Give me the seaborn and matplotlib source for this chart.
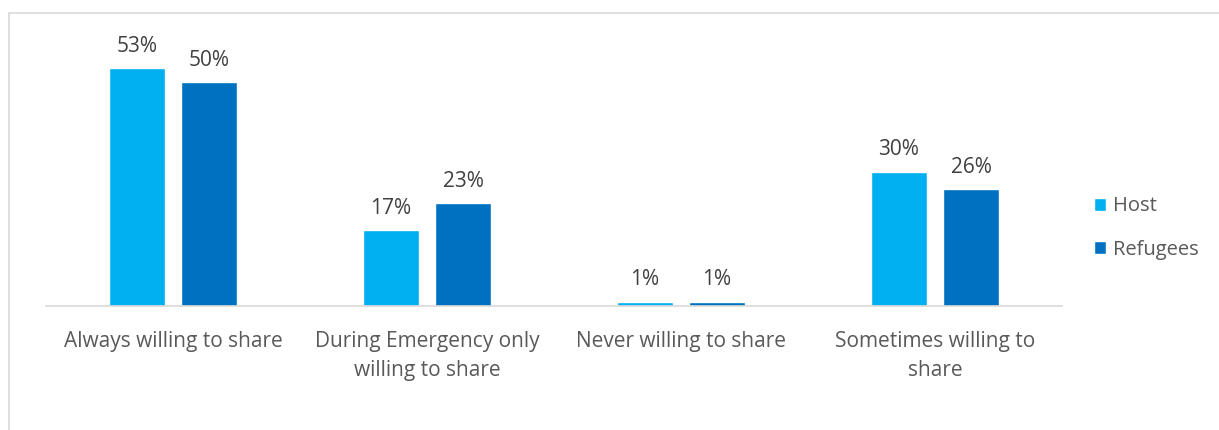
import matplotlib
matplotlib.use("Agg")
import matplotlib.pyplot as plt
from matplotlib.lines import Line2D
import seaborn as sns
import pandas as pd

categories = ["Always willing to share", "During Emergency only\nwilling to share",
              "Never willing to share", "Sometimes willing to\nshare"]
groups = ["Host", "Refugees"]
host_values = [53, 17, 1, 30]
refugee_values = [50, 23, 1, 26]

df = pd.DataFrame({
    "category": categories * 2,
    "group": [groups[0]] * 4 + [groups[1]] * 4,
    "value": host_values + refugee_values,
})

sns.set_theme(style="white")
plt.rcParams["font.family"] = ["Open Sans", "DejaVu Sans"]

W, H = 1219, 430
fig = plt.figure(figsize=(W / 100, H / 100), dpi=100)
ax = fig.add_axes([46 / W, 1 - 306 / H, (1062 - 46) / W, (306 - 37) / H])

palette = {"Host": "#00B0F0", "Refugees": "#0070C0"}
sns.barplot(data=df, x="category", y="value", hue="group", palette=palette,
            width=0.567, gap=0.224, saturation=1, ax=ax, legend=True)

ax.set_ylim(0, 60)
ax.set_xlim(-0.5, 3.5)
ax.set_xlabel("")
ax.set_ylabel("")
ax.set_yticks([])
for s in ["top", "right", "left"]:
    ax.spines[s].set_visible(False)
ax.spines["bottom"].set_color("#d9d9d9")
ax.spines["bottom"].set_linewidth(1.2)
ax.tick_params(axis="x", length=0, pad=18, labelsize=15, labelcolor="#595959")
for lbl in ax.get_xticklabels():
    lbl.set_linespacing(1.5)

for cont in ax.containers:
    ax.bar_label(cont, labels=[f"{v:.0f}%" for v in cont.datavalues],
                 padding=8, fontsize=15, color="#404040")

leg = ax.legend(loc="center left", bbox_to_anchor=(1086 / W, 1 - 228 / H),
                bbox_transform=fig.transFigure,
                frameon=False, fontsize=14.5, handlelength=0.6, handleheight=0.6,
                handletextpad=0.35, labelspacing=1.15, borderaxespad=0)
for t in leg.get_texts():
    t.set_color("#595959")

# thin frame around the chart area
fig.add_artist(Line2D([8.5 / W, 8.5 / W], [0, 1 - 13 / H], color="#d9d9d9", lw=1.2))
fig.add_artist(Line2D([8.5 / W, 1], [1 - 13 / H, 1 - 13 / H], color="#d9d9d9", lw=1.2))

fig.savefig("out.png", dpi=100, facecolor="white")
